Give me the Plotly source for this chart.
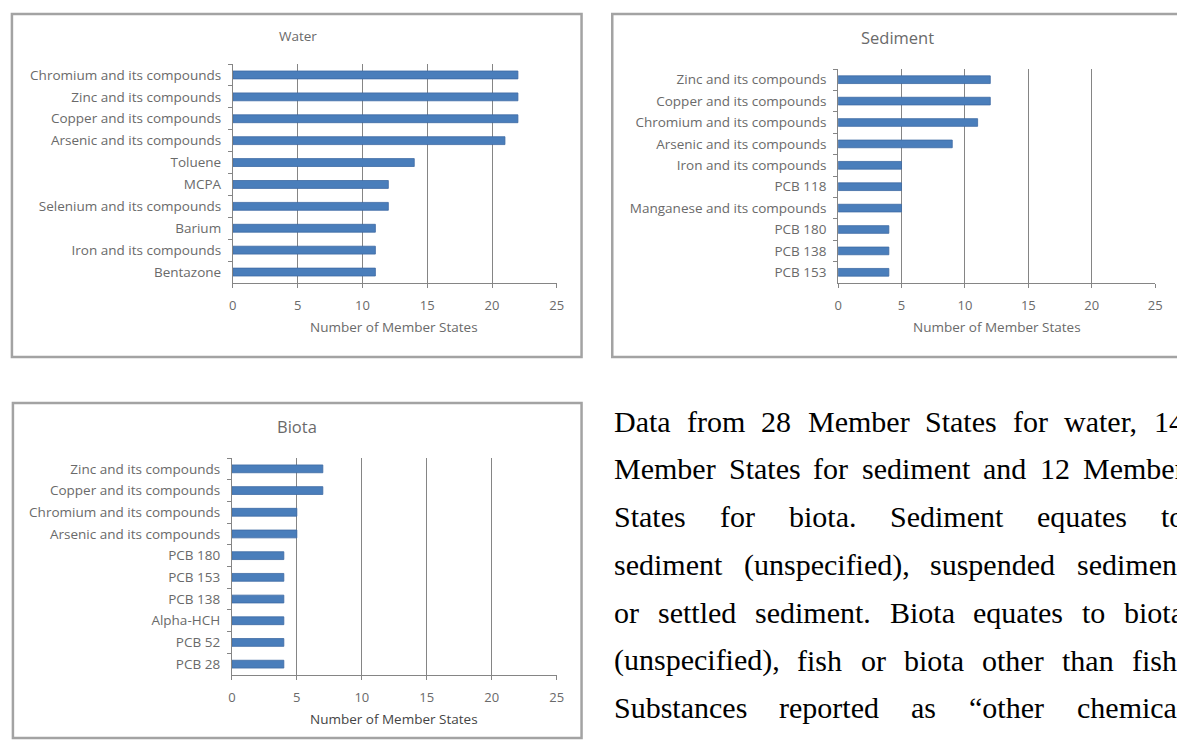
import plotly.graph_objects as go

W, H = 1177, 740

# ---------------- data ----------------
water_cats = ["Chromium and its compounds", "Zinc and its compounds", "Copper and its compounds",
              "Arsenic and its compounds", "Toluene", "MCPA", "Selenium and its compounds",
              "Barium", "Iron and its compounds", "Bentazone"]
water_vals = [22, 22, 22, 21, 14, 12, 12, 11, 11, 11]

sed_cats = ["Zinc and its compounds", "Copper and its compounds", "Chromium and its compounds",
            "Arsenic and its compounds", "Iron and its compounds", "PCB 118",
            "Manganese and its compounds", "PCB 180", "PCB 138", "PCB 153"]
sed_vals = [12, 12, 11, 9, 5, 5, 5, 4, 4, 4]

biota_cats = ["Zinc and its compounds", "Copper and its compounds", "Chromium and its compounds",
              "Arsenic and its compounds", "PCB 180", "PCB 153", "PCB 138", "Alpha-HCH",
              "PCB 52", "PCB 28"]
biota_vals = [7, 7, 5, 5, 4, 4, 4, 4, 4, 4]

x_ticks = [0, 5, 10, 15, 20, 25]
axis_title = "Number of Member States"

text_lines = [
    "Data from 28 Member States for water, 14",
    "Member States for sediment and 12 Member",
    "States for biota. Sediment equates to",
    "sediment (unspecified), suspended sediment",
    "or settled sediment. Biota equates to biota",
    "(unspecified), fish or biota other than fish.",
    "Substances reported as \u201cother chemical",
]


def px(x):
    return x / W


def py(y):
    return 1 - y / H


BAR = "#4a7ebb"
GRID = "#858585"
LBL = "#6a6a6a"
FONT = "Open Sans"

panels = [
    dict(title="Water", tsize=13.5, tx=297, ty=36, cats=water_cats, vals=water_vals,
         xd=(231, 558), yd=(64, 283), atx=394, aty=327, acol=LBL, box=(8, 14, 583, 357)),
    dict(title="Sediment", tsize=16.5, tx=902, ty=37, cats=sed_cats, vals=sed_vals,
         xd=(842, 1162), yd=(69, 283), atx=1002, aty=327, acol=LBL, box=(614, 14, 1200, 357)),
    dict(title="Biota", tsize=16.5, tx=296, ty=426, cats=biota_cats, vals=biota_vals,
         xd=(230, 558), yd=(458, 675), atx=394, aty=719, acol="#444444", box=(9, 403, 583, 738)),
]

fig = go.Figure()
annotations = []
shapes = []
layout_axes = {}

for i, p in enumerate(panels):
    n = "" if i == 0 else str(i + 1)
    fig.add_trace(go.Bar(
        x=p["vals"], y=p["cats"], orientation="h",
        xaxis="x" + n, yaxis="y" + n,
        marker=dict(color=BAR, line=dict(color="#3d6aa3", width=0.8)),
        showlegend=False, hoverinfo="x+y",
    ))
    layout_axes["xaxis" + n] = dict(
        domain=[px(p["xd"][0]), px(p["xd"][1])], anchor="y" + n,
        range=[0, 25], tickvals=x_ticks, showgrid=True, gridcolor=GRID, gridwidth=1,
        zeroline=False, showline=True, linecolor=GRID, linewidth=1,
        ticks="outside", ticklen=4, tickcolor=GRID, ticklabelstandoff=6,
        tickfont=dict(family=FONT, size=13, color=LBL), fixedrange=True,
    )
    layout_axes["yaxis" + n] = dict(
        domain=[py(p["yd"][1]), py(p["yd"][0])], anchor="x" + n,
        type="category", autorange="reversed", categoryorder="array", categoryarray=p["cats"],
        showgrid=False, zeroline=False, showline=True, linecolor=GRID, linewidth=1,
        ticks="outside", ticklen=4, tickcolor=GRID, tickson="boundaries",
        ticklabelstandoff=8,
        tickfont=dict(family=FONT, size=13.5, color=LBL), fixedrange=True,
    )
    annotations.append(dict(xref="paper", yref="paper", x=px(p["tx"]), y=py(p["ty"]),
                            text=p["title"], showarrow=False, xanchor="center", yanchor="middle",
                            font=dict(family=FONT, size=p["tsize"], color=LBL)))
    annotations.append(dict(xref="paper", yref="paper", x=px(p["atx"]), y=py(p["aty"]),
                            text=axis_title, showarrow=False, xanchor="center", yanchor="middle",
                            font=dict(family=FONT, size=13.5, color=p["acol"])))
    x0, y0, x1, y1 = p["box"]
    shapes.append(dict(type="rect", xref="paper", yref="paper",
                       x0=px(x0), x1=px(x1), y0=py(y1), y1=py(y0),
                       line=dict(color="#a3a3a3", width=2.5), fillcolor="rgba(0,0,0,0)", layer="below"))

# ---------------- justified paragraph ----------------
TW = {" ": 250, "!": 333, "\"": 408, "(": 333, ")": 333, ",": 250, "-": 333, ".": 250,
      "\u201c": 444, "\u201d": 444}
for c in "0123456789":
    TW[c] = 500
TW.update(dict(zip("ABCDEFGHIJKLMNOPQRSTUVWXYZ",
                   [722, 667, 667, 722, 611, 556, 722, 722, 333, 389, 722, 611, 889, 722, 722, 556,
                    722, 667, 556, 611, 722, 722, 944, 722, 722, 611])))
TW.update(dict(zip("abcdefghijklmnopqrstuvwxyz",
                   [444, 500, 444, 500, 444, 333, 500, 500, 278, 278, 500, 278, 778, 500, 500, 500,
                    500, 333, 389, 278, 500, 500, 722, 500, 500, 444])))

FS = 30
L, R = 615, 1190
base0, lstep = 431, 47.8
for i, line in enumerate(text_lines):
    words = line.split(" ")
    widths = [sum(TW.get(c, 500) for c in w) / 1000 * FS for w in words]
    gap = (R - L - sum(widths)) / (len(words) - 1)
    x = L
    yb = base0 + i * lstep
    for w, wd in zip(words, widths):
        annotations.append(dict(xref="paper", yref="paper", x=px(x), y=py(yb - 0.33 * FS),
                                text=w, showarrow=False, xanchor="left", yanchor="middle",
                                borderpad=0,
                                font=dict(family="Liberation Serif", size=FS, color="#000000")))
        x += wd + gap

fig.update_layout(
    width=W, height=H, margin=dict(l=0, r=0, t=0, b=0),
    paper_bgcolor="white", plot_bgcolor="white",
    bargap=0.64, annotations=annotations, shapes=shapes,
    **layout_axes,
)

fig.write_html("out.html", config={"displayModeBar": False},
               post_script="document.body.style.margin='0';")
